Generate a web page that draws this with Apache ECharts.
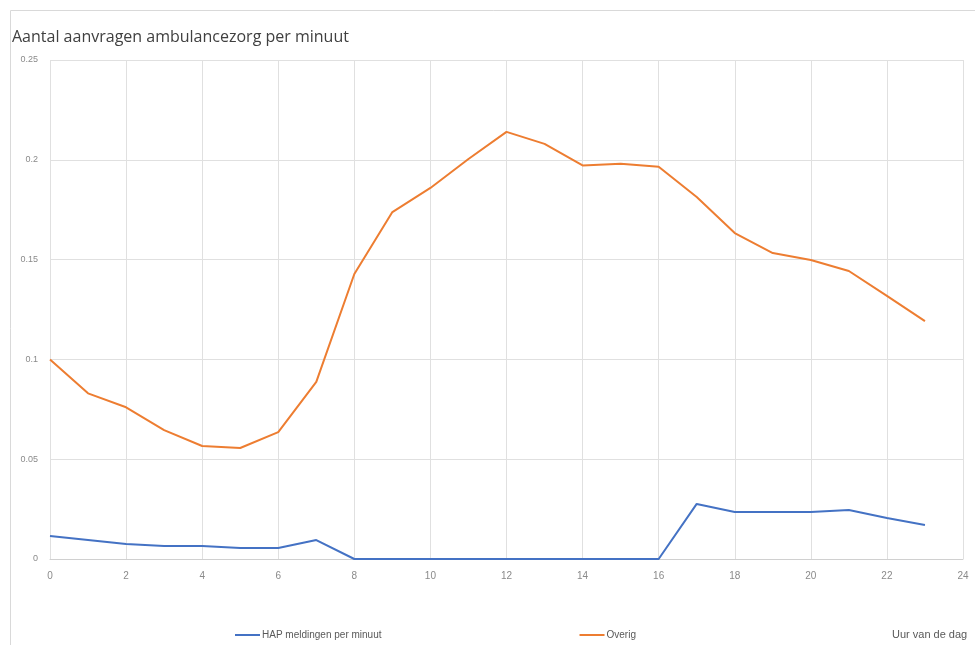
<!DOCTYPE html>
<html>
<head>
<meta charset="utf-8">
<script src="https://cdn.jsdelivr.net/npm/echarts@6/dist/echarts.min.js"></script>
<style>html,body{margin:0;padding:0;background:#fff}#c{width:975px;height:645px}</style>
</head>
<body>
<div id="c"></div>
<script>
const hours = [0,1,2,3,4,5,6,7,8,9,10,11,12,13,14,15,16,17,18,19,20,21,22,23];
const hapValues = [0.0115,0.0095,0.0075,0.0065,0.0065,0.0055,0.0055,0.0095,0,0,0,0,0,0,0,0,0,0.0276,0.0235,0.0235,0.0235,0.0245,0.0205,0.017];
const overigValues = [0.100,0.083,0.076,0.0646,0.0566,0.0556,0.0636,0.0887,0.1428,0.1738,0.1859,0.2004,0.2140,0.2080,0.1972,0.1980,0.1965,0.1814,0.1633,0.1533,0.1498,0.1443,0.1318,0.1192];
const seriesNames = ['HAP meldingen per minuut','Overig'];
const titleText = 'Aantal aanvragen ambulancezorg per minuut';
const xAxisTitle = 'Uur van de dag';

const font = '"Liberation Sans Narrow", "Liberation Sans", "DejaVu Sans Condensed", sans-serif';
const chart = echarts.init(document.getElementById('c'), null, {renderer:'canvas'});
chart.setOption({
  animation:false,
  title:{text:titleText,left:7,top:24,textStyle:{fontFamily:'"Open Sans", "Noto Sans", sans-serif',fontSize:16,fontWeight:'normal',color:'#404040'}},
  grid:{left:50,right:12,top:60,bottom:86,containLabel:false},
  legend:{left:230,top:625,itemGap:198,icon:'rect',itemWidth:25,itemHeight:2,
    textStyle:{fontFamily:font,fontSize:10,color:'#595959',padding:[0,0,0,-3]},
    data:seriesNames},
  xAxis:{type:'value',min:0,max:24,interval:2,
    axisLine:{show:true,lineStyle:{color:'#d0d0d0'}},axisTick:{show:false},
    axisLabel:{color:'#8a8a8a',fontFamily:font,fontSize:10,margin:12},
    splitLine:{show:true,lineStyle:{color:'#e0e0e0'}}},
  yAxis:{type:'value',min:0,max:0.25,interval:0.05,
    axisLine:{show:false},axisTick:{show:false},
    axisLabel:{color:'#8a8a8a',fontFamily:font,fontSize:9,margin:12},
    splitLine:{show:true,lineStyle:{color:'#e0e0e0'}}},
  graphic:[
    {type:'rect',shape:{x:10.5,y:10.5,width:980,height:650},style:{fill:'none',stroke:'#d9d9d9',lineWidth:1},silent:true},
    {type:'text',left:892,top:629,style:{text:xAxisTitle,font:'11px '+font,fill:'#595959'}}
  ],
  series:[
    {name:seriesNames[0],type:'line',data:hours.map((h,i)=>[h,hapValues[i]]),showSymbol:false,
      lineStyle:{color:'#4472C4',width:2},itemStyle:{color:'#4472C4'}},
    {name:seriesNames[1],type:'line',data:hours.map((h,i)=>[h,overigValues[i]]),showSymbol:false,
      lineStyle:{color:'#ED7D31',width:2},itemStyle:{color:'#ED7D31'}}
  ]
});
</script>
</body>
</html>
